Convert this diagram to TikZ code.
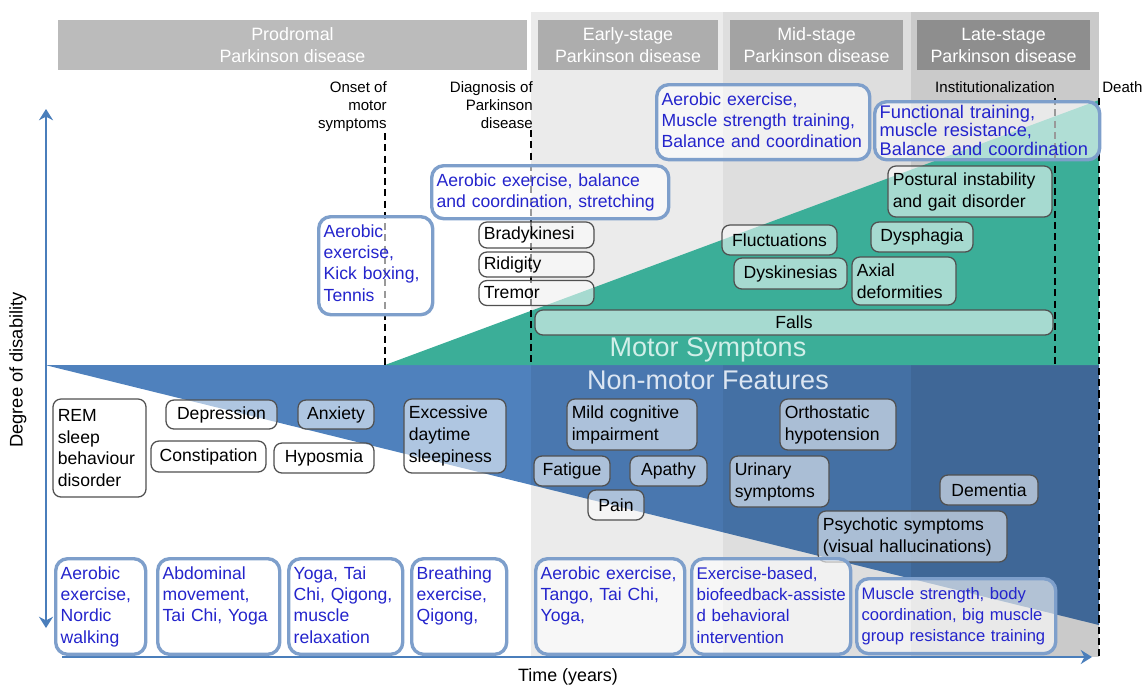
\documentclass[tikz,border=0pt]{standalone}
\usepackage{fontspec}
\setmainfont{Liberation Sans}
\usepackage{xcolor}
\usepackage{tikz}
\usetikzlibrary{arrows.meta,positioning}

\definecolor{colEarly}{HTML}{EBEBEB}
\definecolor{colMid}{HTML}{DEDEDE}
\definecolor{colLate}{HTML}{CACACA}
\definecolor{hdrPro}{HTML}{BBBBBB}
\definecolor{hdrEarly}{HTML}{ADADAD}
\definecolor{hdrMid}{HTML}{A3A3A3}
\definecolor{hdrLate}{HTML}{8E8E8E}
\definecolor{nmblue}{HTML}{4F81BD}
\definecolor{motteal}{HTML}{3BAE98}
\definecolor{motlabel}{HTML}{D2EFE9}
\definecolor{nmlabel}{HTML}{DCE6F2}
\definecolor{symline}{HTML}{505050}
\definecolor{exline}{HTML}{7E9FCB}
\definecolor{extext}{HTML}{2424CC}
\definecolor{axblue}{HTML}{4A7EBB}

\tikzset{
  stage/.style={fill=#1, text=white, align=center, minimum height=1.25cm, inner sep=0pt,
    font=\fontsize{12.7}{15.6}\selectfont},
  sym/.style={draw=symline, line width=0.9pt, rounded corners=0.2cm, fill=white, fill opacity=0.55,
    text opacity=1, inner xsep=0.12cm, inner ysep=0pt, font=\fontsize{12.5}{15.6}\selectfont},
  exer/.style={draw=exline, line width=2.4pt, rounded corners=0.3cm, fill=white, fill opacity=0.6,
    text opacity=1, text=extext, align=left, anchor=north west, inner xsep=0.125cm, inner ysep=5pt,
    text height=10pt, font=\fontsize{12.5}{15}\selectfont},
  milestone/.style={font=\fontsize{10.7}{12.8}\selectfont, inner sep=0pt},
  phase/.style={font=\fontsize{19.2}{22}\selectfont, inner sep=0pt},
  markline/.style={dash pattern=on 5pt off 3pt, line width=1pt},
  axis/.style={draw=axblue, line width=2pt}
}

\begin{document}
\begin{tikzpicture}[x=0.025cm, y=-0.025cm]
    \useasboundingbox (0,0) rectangle (1143,686);

    % Stage columns
    \fill[colEarly] (531,12) rectangle (723,657);
    \fill[colMid] (723,12) rectangle (911,657);
    \fill[colLate] (911,12) rectangle (1099,657);

    % Stage headers
    \node[stage=hdrPro, minimum width=11.725cm] (prodromal) at (292.5,45) {Prodromal\\Parkinson disease};
    \node[stage=hdrEarly, minimum width=4.5cm] (early) at (628,45) {Early-stage\\Parkinson disease};
    \node[stage=hdrMid, minimum width=4.325cm] (mid) at (816.5,45) {Mid-stage\\Parkinson disease};
    \node[stage=hdrLate, minimum width=4.325cm] (late) at (1003.5,45) {Late-stage\\Parkinson disease};

    % Non-motor wedge
    \fill[nmblue] (45,365) -- (1099,365) -- (1099,625) -- cycle;
    \begin{scope}
        \clip (45,365) -- (1099,365) -- (1099,625) -- cycle;
        \fill[black, opacity=0.07] (531,365) rectangle (723,657);
        \fill[black, opacity=0.13] (723,365) rectangle (911,657);
        \fill[black, opacity=0.2] (911,365) rectangle (1099,657);
    \end{scope}

    % Motor wedge
    \fill[motteal] (385,365) -- (1099,365) -- (1099,100) -- cycle;
    \node[phase, text=motlabel] (motor) at (708,350) {Motor Symptons};
    \node[phase, text=nmlabel] (nonmotor) at (708,380) {Non-motor Features};

    % Milestones
    \coordinate (onset top) at (385,133);
    \coordinate (onset bot) at (385,365);
    \coordinate (diag top) at (531,130);
    \coordinate (diag bot) at (531,365);
    \coordinate (inst top) at (1055,98);
    \coordinate (inst bot) at (1055,365);
    \coordinate (death top) at (1099,98);
    \coordinate (death bot) at (1099,657);
    \draw[markline] (onset top) -- (onset bot);
    \draw[markline] (diag top) -- (diag bot);
    \draw[markline] (inst top) -- (inst bot);
    \draw[markline] (death top) -- (death bot);
    \node[milestone, anchor=north east, align=right] (onsetlbl) at (387,81) {Onset of\\motor\\symptoms};
    \node[milestone, anchor=north east, align=right] (diaglbl) at (533,81) {Diagnosis of\\Parkinson\\disease};
    \node[milestone] (instlbl) at (995,87) {Institutionalization};
    \node[milestone, anchor=west] (deathlbl) at (1102,87) {Death};

    % Axes
    \coordinate (yax top) at (46,109);
    \coordinate (yax bot) at (46,628);
    \coordinate (xax start) at (62,657);
    \coordinate (xax end) at (1092,657);
    \draw[axis, {Stealth[length=8pt,width=10pt]}-{Stealth[length=8pt,width=10pt]}] (yax bot) -- (yax top);
    \draw[axis, -{Stealth[length=8pt,width=10pt]}] (xax start) -- (xax end);
    \node[rotate=90, font=\fontsize{13}{15}\selectfont] (ylabel) at (18,370) {Degree of disability};
    \node[font=\fontsize{12.7}{15}\selectfont] (xlabel) at (568,677) {Time (years)};

    % Motor symptoms
    \node[sym, align=left, text width=2.635cm, minimum height=0.65cm] (brady) at (536.5,235) {Bradykinesi};
    \node[sym, align=left, text width=2.635cm, minimum height=0.625cm] (ridigity) at (536.5,264.5) {Ridigity};
    \node[sym, align=left, text width=2.635cm, minimum height=0.625cm] (tremor) at (536.5,293) {Tremor};
    \node[sym, minimum width=12.95cm, minimum height=0.625cm] (falls) at (794,322.5) {Falls};
    \node[sym, minimum width=2.875cm, minimum height=0.75cm] (fluct) at (779.5,240) {Fluctuations};
    \node[sym, minimum width=2.825cm, minimum height=0.775cm] (dyskin) at (790.5,273.5) {Dyskinesias};
    \node[sym, minimum width=2.55cm, minimum height=0.75cm] (dysphag) at (922,237) {Dysphagia};
    \node[sym, align=left, text width=2.36cm, minimum height=1.2cm] (axial) at (904,281) {Axial\\deformities};
    \node[sym, align=left, text width=3.86cm, minimum height=1.275cm] (postural) at (970,191.5) {Postural instability\\and gait disorder};

    % Non-motor features
    \node[sym, align=left, text width=2.085cm, minimum height=2.45cm] (rem) at (99.5,448) {REM\\sleep\\behaviour\\disorder};
    \node[sym, minimum width=2.775cm, minimum height=0.725cm] (depress) at (221.5,414.5) {Depression};
    \node[sym, minimum width=1.9cm, minimum height=0.725cm] (anxiety) at (336,414.5) {Anxiety};
    \node[sym, minimum width=2.875cm, minimum height=0.775cm] (constip) at (208.5,456.5) {Constipation};
    \node[sym, minimum width=2.5cm, minimum height=0.75cm] (hyposm) at (324,458) {Hyposmia};
    \node[sym, align=left, text width=2.31cm, minimum height=1.85cm] (sleepy) at (455,436) {Excessive\\daytime\\sleepiness};
    \node[sym, align=left, text width=3.01cm, minimum height=1.275cm] (mci) at (632,424.5) {Mild cognitive\\impairment};
    \node[sym, minimum width=1.9cm, minimum height=0.75cm] (fatigue) at (572,471) {Fatigue};
    \node[sym, minimum width=1.925cm, minimum height=0.75cm] (apathy) at (668.5,471) {Apathy};
    \node[sym, minimum width=1.4cm, minimum height=0.75cm] (pain) at (616,505) {Pain};
    \node[sym, align=left, text width=2.66cm, minimum height=1.275cm] (ortho) at (838,424.5) {Orthostatic\\hypotension};
    \node[sym, align=left, text width=2.235cm, minimum height=1.275cm] (urinary) at (779.5,481.5) {Urinary\\symptoms};
    \node[sym, minimum width=2.45cm, minimum height=0.75cm] (dementia) at (989,490) {Dementia};
    \node[sym, align=left, text width=4.485cm, minimum height=1.275cm] (psychotic) at (912.5,536.5) {Psychotic symptoms\\(visual hallucinations)};

    % Exercise interventions, upper row
    \node[exer, text width=2.6cm, text depth=49.7pt] (exonset) at (317,215) {Aerobic\\exercise,\\Kick boxing,\\Tennis};
    \node[exer, text width=5.675cm, text depth=17.7pt] (exdiag) at (430,164) {Aerobic exercise, balance\\and coordination, stretching};
    \node[exer, text width=5.075cm, text depth=33.3pt] (exmid) at (655,83) {Aerobic exercise,\\Muscle strength training,\\Balance and coordination};
    \node[exer, text width=5.375cm, inner ysep=3pt, text height=9pt, text depth=26.3pt,
        font=\fontsize{13}{13}\selectfont] (exlate) at (873,100) {Functional training,\\muscle resistance,\\Balance and coordination};

    % Exercise interventions, lower row
    \node[exer, text width=2cm, text depth=48pt] (exrem) at (54,557) {Aerobic\\exercise,\\Nordic\\walking};
    \node[exer, text width=2.8cm, text depth=48pt] (exconst) at (156,557) {Abdominal\\movement,\\Tai Chi, Yoga};
    \node[exer, text width=2.6cm, text depth=48pt] (exanx) at (287,557) {Yoga, Tai\\Chi, Qigong,\\muscle\\relaxation};
    \node[exer, text width=2.125cm, text depth=48pt] (exsleep) at (410,557) {Breathing\\exercise,\\Qigong,};
    \node[exer, text width=3.475cm, text depth=48pt] (exearly) at (534,557) {Aerobic exercise,\\Tango, Tai Chi,\\Yoga,};
    \node[exer, text width=3.725cm, text depth=48pt, font=\fontsize{12}{15}\selectfont] (exbio) at (690,557) {Exercise-based,\\\mbox{biofeedback-assiste}\\d behavioral\\intervention};
    \node[exer, text width=4.725cm, text depth=33.3pt, font=\fontsize{11.8}{15}\selectfont] (exstrength) at (855,577) {Muscle strength, body\\coordination, big muscle\\group resistance training};

\end{tikzpicture}
\end{document}
